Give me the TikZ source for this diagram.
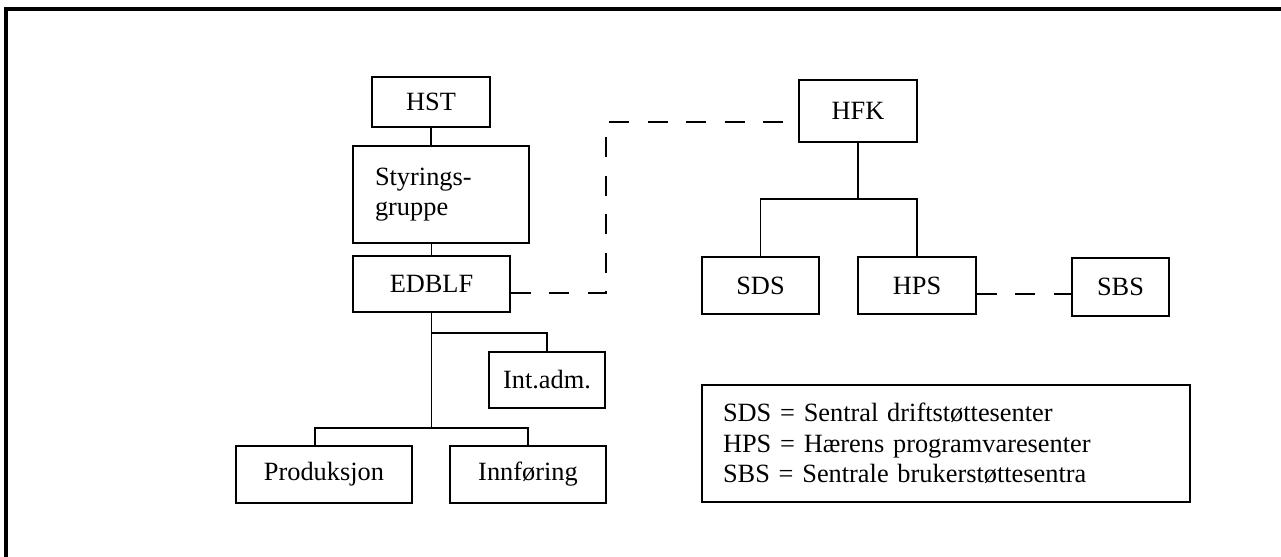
\documentclass[tikz,border=0pt]{standalone}
\usepackage{fontspec}
\setmainfont{Liberation Serif}
\usepackage{tikz}
\usetikzlibrary{positioning,calc}

\begin{document}
\begin{tikzpicture}[x=0.02cm, y=-0.02cm,
    orgbox/.style={rectangle, draw=black, line width=1.1pt, text centered, inner sep=0pt, font=\fontsize{15}{17.5}\selectfont},
    orgline/.style={line width=1.1pt},
    linkline/.style={line width=1.1pt, dash pattern=on 0.4cm off 0.37cm}]
    \useasboundingbox (0,0) rectangle (1281,556);

    % Frame - only top and left edge show
    \draw [line width=2.3pt] (1295,9) -- (6,9) -- (6,570);

    % Left chain - HST down to EDBLF
    \node [orgbox, minimum width=2.36cm, minimum height=1.0cm] (hst) at (431,102) {HST};
    \node [orgbox, minimum width=3.52cm, minimum height=1.94cm, text width=2.64cm, inner xsep=0.44cm, align=left] (styr) at (441,194.5) {Styrings-\\gruppe};
    \node [orgbox, minimum width=3.14cm, minimum height=1.12cm] (edblf) at (431.5,284) {EDBLF};

    % Units under EDBLF
    \node [orgbox, minimum width=2.32cm, minimum height=1.12cm] (intadm) at (547,380) {Int.adm.};
    \node [orgbox, minimum width=3.52cm, minimum height=1.14cm] (prod) at (324,474.5) {Produksjon};
    \node [orgbox, minimum width=3.12cm, minimum height=1.14cm] (innf) at (528,474.5) {Innføring};

    % Right tree - HFK with SDS and HPS, SBS beside
    \node [orgbox, minimum width=2.36cm, minimum height=1.24cm] (hfk) at (858,111) {HFK};
    \node [orgbox, minimum width=2.34cm, minimum height=1.14cm] (sds) at (760.5,285.5) {SDS};
    \node [orgbox, minimum width=2.36cm, minimum height=1.14cm] (hps) at (917,285.5) {HPS};
    \node [orgbox, minimum width=1.94cm, minimum height=1.16cm] (sbs) at (1120.5,287) {SBS};

    % Legend
    \node [orgbox, minimum width=9.76cm, minimum height=2.34cm, text width=8.92cm, inner xsep=0.42cm, align=left] (legend) at (946,443.5) {
        SDS = Sentral driftstøttesenter\\
        HPS = Hærens programvaresenter\\
        SBS = Sentrale brukerstøttesentra
    };

    % Solid lines
    \draw [orgline] (hst.south) -- (hst.south |- styr.north);
    \draw [orgline] (edblf.north |- styr.south) -- (edblf.north);
    \draw [orgline] (edblf.south) -- ++(0,20) -| (intadm.north);
    \draw [orgline] (edblf.south) -- ++(0,115) coordinate (esplit);
    \draw [orgline] (esplit) -| ([xshift=-0.18cm]prod.north);
    \draw [orgline] (esplit) -| (innf.north);
    \draw [orgline] (hfk.south) -- ++(0,56) coordinate (hsplit);
    \draw [orgline] (hsplit) -| (sds.north);
    \draw [orgline] (hsplit) -| (hps.north);

    % Dashed links
    \coordinate (dcorner) at (606,122);
    \draw [linkline] ([yshift=-0.18cm]edblf.east) -| (dcorner) -- (dcorner -| hfk.west);
    \draw [linkline] ([yshift=-0.17cm]hps.east) -- ([yshift=-0.17cm]hps.east -| sbs.west);

\end{tikzpicture}
\end{document}
